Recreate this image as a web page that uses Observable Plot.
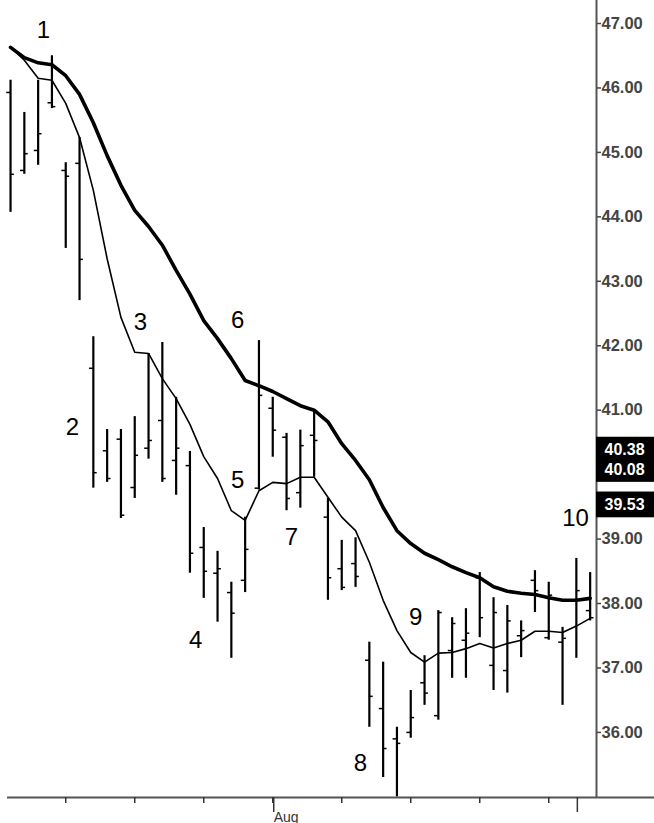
<!DOCTYPE html>
<html><head><meta charset="utf-8">
<script src="https://cdn.jsdelivr.net/npm/d3@7"></script>
<script src="https://cdn.jsdelivr.net/npm/@observablehq/plot@0.6"></script>
<style>body{margin:0;background:#fff;overflow:hidden}</style>
</head><body><div id="chart"></div>
<script>
// OHLC bars (one per trading day)
const highs  = [46.12,45.62,46.12,46.50,44.84,45.23,42.14,40.70,40.70,40.90,41.88,42.05,41.20,40.36,39.18,38.81,38.33,39.34,42.08,41.20,40.64,40.69,41.00,39.63,38.98,39.02,37.40,37.09,36.08,36.65,37.19,37.89,37.78,37.92,38.48,38.09,37.97,37.73,38.51,38.33,37.63,38.70,38.48];
const lows   = [44.07,44.66,44.80,45.68,43.51,42.70,39.79,39.88,39.32,39.63,40.24,39.88,39.68,38.47,38.08,37.71,37.15,38.17,39.76,40.27,39.44,39.48,39.96,38.05,38.20,38.25,36.08,35.30,35.00,35.91,36.42,36.19,36.84,36.84,37.47,36.65,36.61,37.16,37.86,37.43,36.42,37.15,37.73];
const opens  = [45.93,44.72,45.03,45.77,44.72,44.83,41.65,40.37,40.55,39.80,40.41,40.84,40.22,40.14,38.87,38.47,38.17,38.36,39.79,41.03,40.58,39.72,40.61,39.34,38.54,38.62,37.12,36.37,35.90,36.00,36.77,36.26,37.27,37.43,38.40,37.04,36.96,37.50,38.36,37.47,37.40,38.05,37.89];
const closes = [44.66,44.98,45.29,45.71,44.63,43.34,40.03,39.94,39.37,40.30,40.53,39.94,40.41,38.78,38.50,38.54,37.85,38.84,41.23,40.69,39.63,40.45,40.53,38.40,38.25,38.42,36.56,35.75,35.83,36.23,36.61,37.86,37.69,37.54,37.78,37.86,37.73,37.58,38.20,38.13,37.46,38.20,37.78];
// moving averages
const slowMA = [46.63,46.47,46.39,46.36,46.19,45.90,45.46,44.95,44.49,44.10,43.85,43.56,43.17,42.80,42.39,42.11,41.80,41.46,41.38,41.29,41.18,41.07,41.00,40.82,40.48,40.22,39.92,39.49,39.13,38.93,38.78,38.68,38.57,38.48,38.40,38.26,38.19,38.16,38.14,38.09,38.05,38.05,38.08];
const fastMA = [46.63,46.43,46.15,46.12,45.76,45.23,44.41,43.35,42.44,41.90,41.88,41.49,41.18,40.78,40.28,39.94,39.44,39.29,39.75,39.88,39.86,39.96,39.96,39.65,39.34,39.13,38.64,38.05,37.58,37.24,37.09,37.23,37.24,37.30,37.38,37.31,37.38,37.43,37.57,37.57,37.55,37.65,37.77];
// axes
const yTicks = [36,37,38,39,40,41,42,43,44,45,46,47];
const weekTicks = [4,9,14,19,24,29,34,39];
const monthTicks = [19,41];
const monthLabels = ["Aug",""];
// annotations
const annotText = ["1","2","3","4","5","6","7","8","9","10"];
const annotX = [2.39,4.49,9.42,13.41,16.45,16.45,20.36,25.36,29.35,40.94];
const annotY = [46.89,40.73,42.36,37.43,39.91,42.39,39.02,35.52,37.78,39.32];
const priceLabels = [40.38,40.08,39.53];

const xDomain = [-0.22, 42.46];
const xFar = 46.7;
const yDomain = [34.99, 47.357];

const bars = highs.map((h,i)=>({i, high:h, low:lows[i], open:opens[i], close:closes[i]}));
const ma = slowMA.map((s,i)=>({i, slow:s, fast:fastMA[i]}));
const annots = annotText.map((t,k)=>({t, x:annotX[k], y:annotY[k]}));
const fam = "Liberation Sans, Arial, Helvetica, sans-serif";

const chart = Plot.plot({
  width: 654, height: 823,
  marginLeft: 7, marginRight: 58, marginTop: 0, marginBottom: 26,
  style: {fontFamily: fam, background: "#fff", overflow: "visible"},
  x: {type: "linear", domain: xDomain, axis: null},
  y: {type: "linear", domain: yDomain, axis: null},
  marks: [
    Plot.ruleX([xDomain[1]], {stroke: "#555", strokeWidth: 2}),
    Plot.ruleY([yDomain[0]], {x1: () => xDomain[0], x2: () => xFar, stroke: "#555", strokeWidth: 2}),
    Plot.axisY({anchor: "right", ticks: yTicks, tickFormat: d3.format(".2f"), tickSize: 4, tickPadding: 1,
      fontSize: 16.5, fontWeight: "bold", color: "#444", strokeWidth: 1.5}),
    Plot.axisX({anchor: "bottom", ticks: weekTicks, tickSize: 6, tickFormat: () => "", color: "#333", strokeWidth: 1.5}),
    Plot.axisX({anchor: "bottom", ticks: monthTicks, tickSize: 15, tickPadding: 0, tickFormat: d => monthLabels[monthTicks.indexOf(d)],
      textAnchor: "start", dx: 1, fontSize: 14, color: "#333", strokeWidth: 1.5}),
    Plot.line(ma, {x: "i", y: "slow", stroke: "#000", strokeWidth: 3.6}),
    Plot.line(ma, {x: "i", y: "fast", stroke: "#000", strokeWidth: 1.6}),
    Plot.ruleX(bars, {x: "i", y1: "low", y2: "high", stroke: "#000", strokeWidth: 2.2}),
    Plot.ruleY(bars, {y: "open", x1: d => d.i - 0.28, x2: "i", stroke: "#000", strokeWidth: 1.5}),
    Plot.ruleY(bars, {y: "close", x1: "i", x2: d => d.i + 0.28, stroke: "#000", strokeWidth: 1.5}),
    Plot.text(annots, {x: "x", y: "y", text: "t", fontSize: 24, fill: "#000"}),
    ...priceLabels.flatMap(v => [
      Plot.rect([v], {x1: () => xDomain[1], x2: () => xFar, y1: d => d - 0.2, y2: d => d + 0.2, fill: "#000"}),
      Plot.text([v], {x: () => xDomain[1], y: d => d, text: d => d3.format(".2f")(d), dx: 8, textAnchor: "start", fill: "#fff", fontSize: 16, fontWeight: "bold"})
    ])
  ]
});
document.getElementById("chart").append(chart);
</script>
</body></html>
